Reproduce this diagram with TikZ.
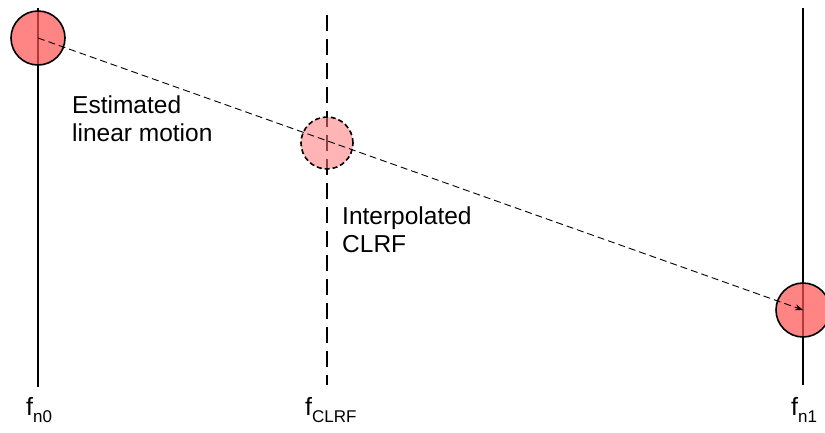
\documentclass[tikz,border=0pt]{standalone}
\usepackage{fontspec}
\setmainfont{Liberation Sans}
\usetikzlibrary{arrows.meta}
\newcommand{\subtxt}[1]{\raisebox{-7pt}{\fontsize{17}{20}\selectfont #1}}
\begin{document}
\begin{tikzpicture}[x=1pt,y=-1pt,
  frameline/.style={line width=1.6pt,black},
  ball/.style={circle,minimum size=54pt,inner sep=0pt,draw=black,line width=1.6pt,fill={rgb,255:red,255;green,80;blue,80},fill opacity=0.7},
  ghost/.style={circle,minimum size=52pt,inner sep=0pt,draw=black,line width=1.6pt,dash pattern=on 5pt off 3pt,fill={rgb,255:red,255;green,120;blue,120},fill opacity=0.55},
  lbl/.style={font=\fontsize{24.5}{28}\selectfont,align=left,anchor=north west,inner sep=0pt},
  flbl/.style={font=\fontsize{25}{28}\selectfont,inner sep=0pt}
]
\useasboundingbox (0,0) rectangle (825,432);
\coordinate (t0) at (38,8);
\coordinate (b0) at (38,387);
\coordinate (tm) at (327,15);
\coordinate (bm) at (327,385);
\coordinate (t1) at (803,8);
\coordinate (b1) at (803,385);
\draw[frameline] (t0) -- (b0);
\draw[frameline,dash pattern=on 16pt off 8pt] (tm) -- (bm);
\draw[frameline] (t1) -- (b1);
\node[ball] (c0) at (38,38) {};
\node[ghost] (cm) at (327,143) {};
\node[ball] (c1) at (803,310) {};
\draw[line width=0.9pt,dash pattern=on 7pt off 4pt,-{Stealth[length=8pt,width=6pt]}] (c0.center) -- (c1.center);
\node[lbl] (est) at (72,96) {Estimated\\linear motion};
\node[lbl] (interp) at (342,207) {Interpolated\\CLRF};
\node[flbl,anchor=base west] (f0) at (26,415) {f\subtxt{n0}};
\node[flbl,anchor=base west] (fm) at (305,415) {f\subtxt{CLRF}};
\node[flbl,anchor=base west] (f1) at (791,415) {f\subtxt{n1}};
\end{tikzpicture}
\end{document}
